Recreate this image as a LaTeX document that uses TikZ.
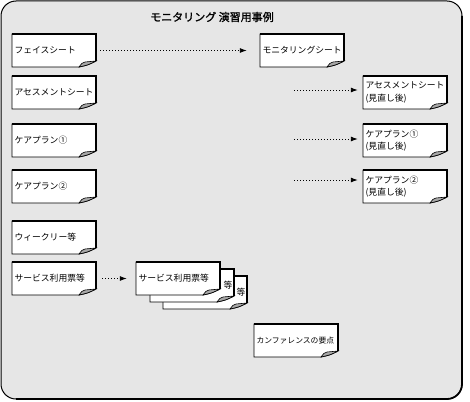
\documentclass[tikz,border=0pt]{standalone}
\usepackage{fontspec}
\newfontfamily\jp{Noto Sans CJK JP}
\newfontfamily\jptitle[FakeBold=1.2]{Noto Sans CJK JP}
\usetikzlibrary{arrows.meta}
\definecolor{bgray}{HTML}{E6E6E6}
\definecolor{foldgray}{HTML}{A8A8A8}
\tikzset{
 frame/.style={draw=black, fill=bgray, line width=1pt, rounded corners=15pt},
 frameedge/.style={draw=black, line width=1.8pt, rounded corners=15pt},
 notebody/.style={draw=black, fill=white, line width=0.9pt},
 noteedge/.style={draw=black, line width=1.8pt},
 notefold/.style={draw=black, fill=foldgray, line width=0.6pt},
 notebox/.style={inner sep=0pt, minimum width=84pt, minimum height=33pt},
 notelabel/.style={anchor=west, xshift=2.5pt, inner sep=0pt, align=left, font=\jp\fontsize{8.8}{12.5}\selectfont},
 flow/.style={dash pattern=on 1pt off 2pt, line width=0.9pt, -{Latex[length=7pt,width=5pt]}},
 titletext/.style={font=\jptitle\fontsize{11}{12}\selectfont, inner sep=0pt}
}
\newcommand\docnote[4]{%
 \filldraw[notebody] (#2,#3) -- (#2+84,#3) -- (#2+84,#3+27) .. controls (#2+76,#3+31) .. (#2+67,#3+33) -- (#2,#3+33) -- cycle;
 \draw[noteedge] (#2,#3) -- (#2+84,#3) -- (#2+84,#3+27);
 \filldraw[notefold] (#2+67,#3+33) .. controls (#2+70,#3+29) .. (#2+73,#3+28) -- (#2+84,#3+27) .. controls (#2+76,#3+31) .. (#2+67,#3+33) -- cycle;
 \node[notebox, label={[notelabel]west:#4}] (#1) at (#2+42,#3+16.5) {};
}
\begin{document}
\begin{tikzpicture}[x=1pt,y=-1pt]
\useasboundingbox (0,0) rectangle (470,401);
\path[frame] (1,1) rectangle (462,399);
\draw[frameedge] (462,16) -- (462,399) -- (16,399);
\node[titletext] (title) at (212,17) {モニタリング 演習用事例};

\docnote{fs}{12}{34}{フェイスシート}
\docnote{as}{12}{76}{アセスメントシート}
\docnote{cpa}{12}{124}{ケアプラン①}
\docnote{cpb}{12}{170}{ケアプラン②}
\docnote{wk}{12}{221}{ウィークリー等}
\docnote{sv}{12}{262}{サービス利用票等}

\docnote{mon}{260}{34}{モニタリングシート}
\docnote{asr}{363}{76}{アセスメントシート\\(見直し後)}
\docnote{cpar}{363}{124}{ケアプラン①\\(見直し後)}
\docnote{cpbr}{363}{170}{ケアプラン②\\(見直し後)}

\docnote{svc}{163}{276}{\hspace*{71pt}等}
\docnote{svb}{150}{269}{\hspace*{71pt}等}
\docnote{sva}{136}{262}{サービス利用票等}

\docnote{conf}{254}{324}{\fontsize{7.8}{12}\selectfont カンファレンスの要点}

\coordinate (s1) at (294,90);
\coordinate (s2) at (294,139);
\coordinate (s3) at (294,180);

\draw[flow, shorten <=4pt, shorten >=13pt] (fs.east) -- (mon.west);
\draw[flow, shorten >=5pt] (s1) -- (s1 -| asr.west);
\draw[flow, shorten >=5pt] (s2) -- (s2 -| cpar.west);
\draw[flow, shorten >=5pt] (s3) -- (s3 -| cpbr.west);
\draw[flow, shorten <=6pt, shorten >=9pt] (sv.east) -- (sva.west);
\end{tikzpicture}
\end{document}
